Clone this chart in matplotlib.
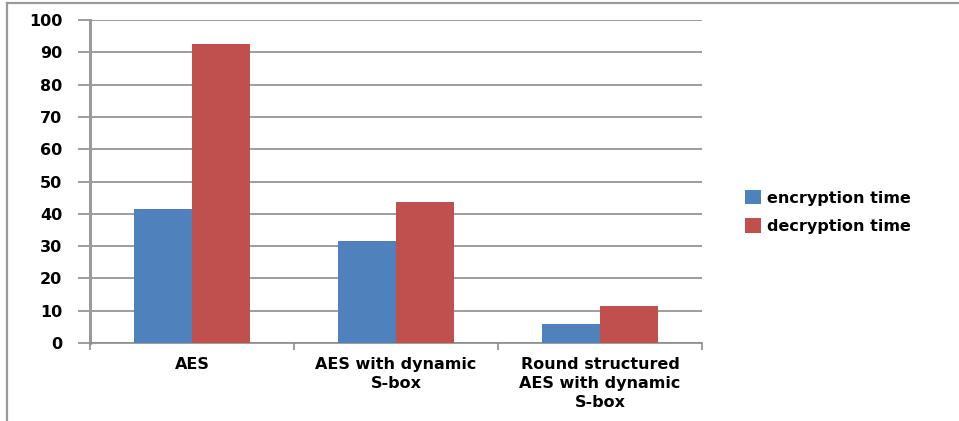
import matplotlib
matplotlib.use("Agg")
import matplotlib.pyplot as plt
from matplotlib.lines import Line2D
from matplotlib.patches import Patch

categories = ["AES", "AES with dynamic\nS-box", "Round structured\nAES with dynamic\nS-box"]
series_names = ["encryption time", "decryption time"]
encryption_time = [41.5, 31.7, 5.8]
decryption_time = [92.5, 43.8, 11.4]
y_ticks = [0, 10, 20, 30, 40, 50, 60, 70, 80, 90, 100]

colors = ["#4F81BD", "#C0504D"]
grid_color = "#8C8C8C"
fs = 11.5

W, H = 959, 421
fig = plt.figure(figsize=(W / 100, H / 100), dpi=100)
ax = fig.add_axes([90 / W, 1 - 343 / H, (702 - 90) / W, (343 - 20) / H])

bw = 0.284
x = list(range(len(categories)))
ax.bar([i - bw / 2 for i in x], encryption_time, width=bw, color=colors[0], zorder=3)
ax.bar([i + bw / 2 for i in x], decryption_time, width=bw, color=colors[1], zorder=3)

ax.set_xlim(-0.5, len(categories) - 0.5)
ax.set_ylim(0, 100)
ax.set_yticks(y_ticks)
ax.set_yticklabels([str(v) for v in y_ticks], fontsize=fs, fontweight="bold")
ax.yaxis.grid(True, color=grid_color, linewidth=1.2, zorder=0)
ax.set_axisbelow(True)

# category labels sit between boundary ticks
ax.set_xticks([i - 0.5 for i in range(len(categories) + 1)])
ax.set_xticklabels([])
ax.set_xticks(x, minor=True)
ax.set_xticklabels(categories, minor=True, fontsize=fs, fontweight="bold",
                   linespacing=1.33, va="top")
ax.tick_params(axis="x", which="minor", length=0, pad=10)
ax.tick_params(axis="x", which="major", length=5, width=1.2, color=grid_color, direction="out")
ax.tick_params(axis="y", length=9, width=1.2, color=grid_color, pad=11)

for s in ("top", "right"):
    ax.spines[s].set_visible(False)
ax.spines["left"].set_color("#9A9A9A")
ax.spines["left"].set_linewidth(2.2)
ax.spines["bottom"].set_color(grid_color)
ax.spines["bottom"].set_linewidth(1.2)

handles = [Patch(facecolor=c, edgecolor="none") for c in colors]
fig.legend(handles, series_names, loc="center left",
           bbox_to_anchor=(737 / W, 1 - 212 / H), frameon=False,
           prop={"size": fs, "weight": "bold"}, handlelength=1.0, handleheight=1.0,
           handletextpad=0.35, labelspacing=0.78, borderpad=0)

# chart area border
fig.add_artist(Line2D([7 / W, 1], [1 - 3 / H, 1 - 3 / H], transform=fig.transFigure,
                      color="#9A9A9A", linewidth=1.6))
fig.add_artist(Line2D([7 / W, 7 / W], [0, 1 - 3 / H], transform=fig.transFigure,
                      color="#9A9A9A", linewidth=1.6))

fig.savefig("out.png", dpi=100, facecolor="white")
